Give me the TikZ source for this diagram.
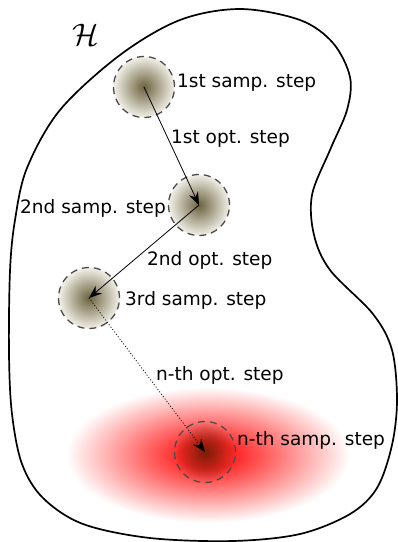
\documentclass[tikz,border=0pt]{standalone}
\usepackage{fontspec}
\setsansfont{DejaVu Sans}
\usetikzlibrary{arrows.meta,fadings}
\definecolor{ballin}{RGB}{108,98,62}
\definecolor{ballout}{RGB}{242,240,232}
\definecolor{redone}{RGB}{255,40,40}
\definecolor{darkred}{RGB}{100,25,0}
\definecolor{dashgray}{RGB}{75,75,75}
\pgfdeclareradialshading{redglow}{\pgfpointorigin}{color(0bp)=(redone); color(5bp)=(redone); color(25bp)=(white); color(50bp)=(white)}
\tikzfading[name=ballfade, inner color=transparent!15, outer color=transparent!100]
\tikzset{
  ballnode/.style={circle, minimum size=61pt, inner sep=0pt, draw=dashgray, line width=1.3pt, dash pattern=on 7pt off 5pt},
  shadedball/.style={ballnode, inner color=ballin, outer color=ballout},
  lbl/.style={font=\sffamily\fontsize{18.5}{22}\selectfont, inner sep=0pt},
  optarrow/.style={line width=0.8pt, -{Stealth[length=13pt, width=10pt, inset=4.5pt]}},
}
\begin{document}
\begin{tikzpicture}[x=1pt, y=-1pt]
\useasboundingbox (0,0) rectangle (398,542);
% region H
\draw[line width=1.7pt] plot[smooth cycle, tension=0.55] coordinates {
  (10,271) (15,220) (27,168) (60,110) (120,55) (180,20) (240,9) (300,20)
  (333,43) (350,77) (347,110) (330,150) (312,195) (314,235) (330,270)
  (373,314) (392,350) (397,400) (392,445) (377,488) (350,514) (300,534)
  (233,541) (150,538) (83,524) (43,498) (22,464) (12,414) (9,354)};
\node[font=\fontsize{24.88}{30}\selectfont, inner sep=0pt, scale=1.25] (H) at (86,35) {$\mathcal{H}$};
% red glow
\shade[shading=redglow] (208,455) ellipse [x radius=142pt, y radius=68pt];
\fill[darkred, path fading=ballfade] (205,452) circle [radius=30.5pt];
% balls
\node[shadedball] (b1) at (144,87) {};
\node[shadedball] (b2) at (199,205) {};
\node[shadedball] (b3) at (89,298) {};
\node[ballnode] (bn) at (205,452) {};
% arrows
\draw[optarrow] (b1.center) -- (b2.center);
\draw[optarrow] (b2.center) -- (b3.center);
\draw[optarrow, dash pattern=on 1pt off 2pt] (b3.center) -- (bn.center);
% labels
\node[lbl, anchor=base west] (l1) at (177,87) {1st samp. step};
\node[lbl, anchor=base west] (o1) at (171,143) {1st opt. step};
\node[lbl, anchor=base east] (l2) at (166,213) {2nd samp. step};
\node[lbl, anchor=base west] (o2) at (147,265) {2nd opt. step};
\node[lbl, anchor=base west] (l3) at (125,305) {3rd samp. step};
\node[lbl, anchor=base west] (on) at (156,380) {n-th opt. step};
\node[lbl, anchor=base west] (ln) at (237,445) {n-th samp. step};
\end{tikzpicture}
\end{document}
